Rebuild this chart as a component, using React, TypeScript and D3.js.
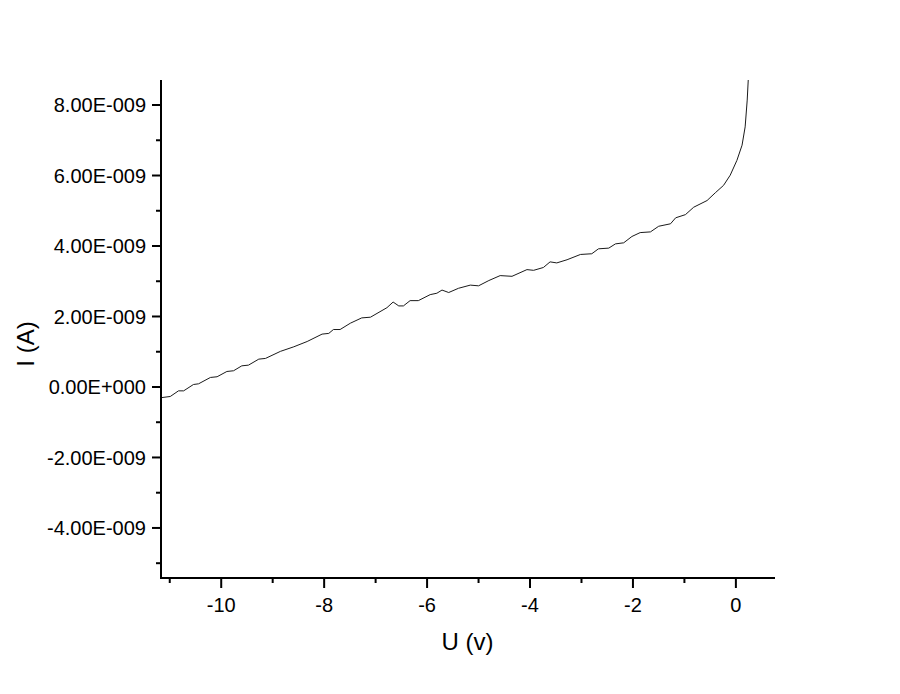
import React from "react";
import * as d3 from "d3";

const voltage = [
  -11.15, -10.99, -10.83, -10.73, -10.54, -10.44, -10.21, -10.08, -9.89, -9.76,
  -9.6, -9.47, -9.27, -9.14, -8.85, -8.59, -8.33, -8.04, -7.91, -7.82,
  -7.69, -7.49, -7.27, -7.1, -6.78, -6.66, -6.55, -6.46, -6.33, -6.17,
  -5.94, -5.81, -5.71, -5.58, -5.39, -5.16, -5.0, -4.8, -4.58, -4.35,
  -4.06, -3.93, -3.74, -3.61, -3.48, -3.28, -3.02, -2.8, -2.67, -2.47,
  -2.34, -2.18, -2.02, -1.86, -1.66, -1.5, -1.27, -1.17, -0.98, -0.82,
  -0.56, -0.4, -0.24, -0.11, 0.02, 0.12, 0.18, 0.22, 0.24,
];
const current = [
  -0.3, -0.27, -0.11, -0.11, 0.07, 0.09, 0.27, 0.29, 0.44, 0.46,
  0.6, 0.62, 0.79, 0.81, 1.01, 1.14, 1.29, 1.5, 1.52, 1.63,
  1.63, 1.81, 1.96, 1.98, 2.25, 2.41, 2.3, 2.3, 2.45, 2.45,
  2.62, 2.66, 2.75, 2.68, 2.8, 2.89, 2.87, 3.02, 3.16, 3.14,
  3.33, 3.31, 3.39, 3.55, 3.52, 3.61, 3.76, 3.78, 3.92, 3.94,
  4.06, 4.09, 4.27, 4.38, 4.4, 4.56, 4.63, 4.8, 4.89, 5.1,
  5.29, 5.51, 5.72, 6.01, 6.43, 6.86, 7.38, 8.14, 8.71,
].map((v) => v * 1e-9);

const xMajorTicks = [-10, -8, -6, -4, -2, 0];
const xMinorTicks = [-11, -9, -7, -5, -3, -1];
const yMajorTicks = [-4e-9, -2e-9, 0, 2e-9, 4e-9, 6e-9, 8e-9];
const yMinorTicks = [-5e-9, -3e-9, -1e-9, 1e-9, 3e-9, 5e-9, 7e-9];
const yTickLabels = ["-4.00E-009", "-2.00E-009", "0.00E+000", "2.00E-009", "4.00E-009", "6.00E-009", "8.00E-009"];
const xTitle = "U (v)";
const yTitle = "I (A)";

const W = 900;
const H = 694;
const left = 161;
const right = 775;
const top = 80;
const bottom = 578;

export default function App() {
  const x = d3.scaleLinear().domain([-11.17, 0.76]).range([left, right]);
  const y = d3.scaleLinear().domain([-5.42e-9, 8.71e-9]).range([bottom, top]);
  const pts: [number, number][] = voltage.map((v, i) => [v, current[i]]);
  const line = d3
    .line<[number, number]>()
    .x((d) => x(d[0]))
    .y((d) => y(d[1]))
    .curve(d3.curveLinear);
  const font = "'Liberation Sans', Arial, sans-serif";
  return (
    <svg
      width={W}
      height={H}
      style={{ position: "absolute", left: 0, top: 0, background: "#fff" }}
      fontFamily={font}
    >
      <rect x={0} y={0} width={W} height={H} fill="#fff" />
      <path d={line(pts) || ""} fill="none" stroke="#1a1a1a" strokeWidth={1} />
      <line x1={left} x2={left} y1={top} y2={bottom + 1} stroke="#000" strokeWidth={2} />
      <line x1={left - 1} x2={right} y1={bottom} y2={bottom} stroke="#000" strokeWidth={2} />
      {yMajorTicks.map((t, i) => (
        <g key={"ym" + i}>
          <line x1={left - 9} x2={left} y1={y(t)} y2={y(t)} stroke="#000" strokeWidth={2} />
          <text x={146} y={y(t)} dy="0.36em" textAnchor="end" fontSize={20} fill="#000">
            {yTickLabels[i]}
          </text>
        </g>
      ))}
      {yMinorTicks.map((t, i) => (
        <line key={"yn" + i} x1={left - 5} x2={left} y1={y(t)} y2={y(t)} stroke="#000" strokeWidth={2} />
      ))}
      {xMajorTicks.map((t, i) => (
        <g key={"xm" + i}>
          <line x1={x(t)} x2={x(t)} y1={bottom} y2={bottom + 10} stroke="#000" strokeWidth={2} />
          <text x={x(t)} y={612} textAnchor="middle" fontSize={20} fill="#000">
            {String(t)}
          </text>
        </g>
      ))}
      {xMinorTicks.map((t, i) => (
        <line key={"xn" + i} x1={x(t)} x2={x(t)} y1={bottom} y2={bottom + 5} stroke="#000" strokeWidth={2} />
      ))}
      <text x={467.5} y={650} textAnchor="middle" fontSize={24} fill="#000">
        {xTitle}
      </text>
      <text
        transform={`translate(34, 344) rotate(-90)`}
        textAnchor="middle"
        fontSize={24}
        fill="#000"
      >
        {yTitle}
      </text>
    </svg>
  );
}
